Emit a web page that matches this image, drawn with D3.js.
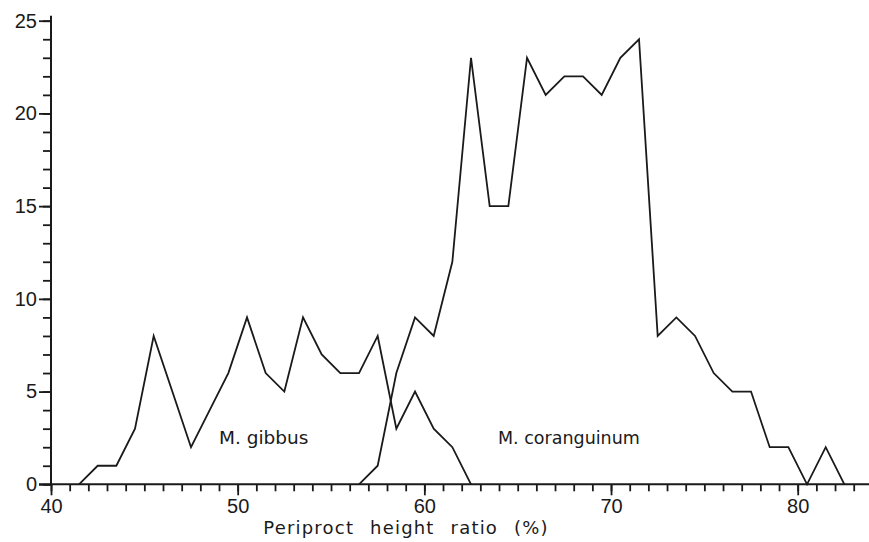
<!DOCTYPE html>
<html>
<head>
<meta charset="utf-8">
<script src="https://cdn.jsdelivr.net/npm/d3@7"></script>
<style>
  body { margin: 0; background: #fff; }
  svg { display: block; }
  text { font-family: "DejaVu Sans", sans-serif; fill: #1a1a1a; }
</style>
</head>
<body>
<svg id="chart" width="869" height="542"></svg>
<script>
// bin midpoints (periproct height ratio, %)
const gibbusX = [41.5,42.5,43.5,44.5,45.5,46.5,47.5,48.5,49.5,50.5,51.5,52.5,53.5,54.5,55.5,56.5,57.5,58.5,59.5,60.5,61.5,62.5]
const gibbusY = [0,1,1,3,8,5,2,4,6,9,6,5,9,7,6,6,8,3,5,3,2,0]

const coranX = [56.5,57.5,58.5,59.5,60.5,61.5,62.5,63.5,64.5,65.5,66.5,67.5,68.5,69.5,70.5,71.5,72.5,73.5,74.5,75.5,76.5,77.5,78.5,79.5,80.5,81.5,82.5]
const coranY = [0,1,6,9,8,12,23,15,15,23,21,22,22,21,23,24,8,9,8,6,5,5,2,2,0,2,0]

const xMajor = [40,50,60,70,80]
const yMajor = [0,5,10,15,20,25]

const svg = d3.select("svg#chart")
const ink = "#1a1a1a"

const x = d3.scaleLinear().domain([40, 80]).range([51, 797.7])
const y = d3.scaleLinear().domain([0, 25]).range([484.3, 20.7])

// y axis: minor ticks every unit, major every 5
const yAxis = svg.append("g").attr("transform", `translate(${x(40)},0)`)
yAxis.append("g")
  .call(d3.axisLeft(y).tickValues(d3.range(0, 26)).tickSize(8).tickFormat(""))
yAxis.append("g")
  .call(d3.axisLeft(y).tickValues(yMajor).tickSize(12).tickPadding(2))
yAxis.selectAll(".domain").remove()
yAxis.append("line")
  .attr("y1", y(0)).attr("y2", y(25) - 5)
  .attr("stroke", ink).attr("stroke-width", 2)

// x axis
const xAxis = svg.append("g").attr("transform", `translate(0,${y(0)})`)
xAxis.append("g")
  .call(d3.axisBottom(x).tickValues(d3.range(40, 84)).tickSize(7).tickFormat(""))
xAxis.append("g")
  .call(d3.axisBottom(x).tickValues(xMajor).tickSize(11).tickPadding(4))
xAxis.selectAll(".domain").remove()
xAxis.append("line")
  .attr("x1", x(40) - 12).attr("x2", 869)
  .attr("stroke", ink).attr("stroke-width", 2)

svg.selectAll(".tick line").attr("stroke", ink).attr("stroke-width", 1.8)
svg.selectAll(".tick text")
  .attr("font-size", 20)
  .attr("fill", ink)
  .style("font-family", "Liberation Sans, Arial, sans-serif")

const line = d3.line()
  .x(d => x(d[0]))
  .y(d => y(d[1]))

svg.append("path")
  .datum(d3.zip(gibbusX, gibbusY))
  .attr("fill", "none")
  .attr("stroke", ink)
  .attr("stroke-width", 1.8)
  .attr("d", line)

svg.append("path")
  .datum(d3.zip(coranX, coranY))
  .attr("fill", "none")
  .attr("stroke", ink)
  .attr("stroke-width", 1.8)
  .attr("d", line)

svg.append("text")
  .attr("x", 219).attr("y", 444)
  .attr("font-size", 18.5)
  .text("M. gibbus")

svg.append("text")
  .attr("x", 498).attr("y", 444)
  .attr("font-size", 17.5)
  .text("M. coranguinum")

svg.append("text")
  .attr("x", 406).attr("y", 534)
  .attr("text-anchor", "middle")
  .attr("font-size", 18)
  .style("letter-spacing", "1.2px")
  .style("word-spacing", "9px")
  .text("Periproct height ratio (%)")
</script>
</body>
</html>
